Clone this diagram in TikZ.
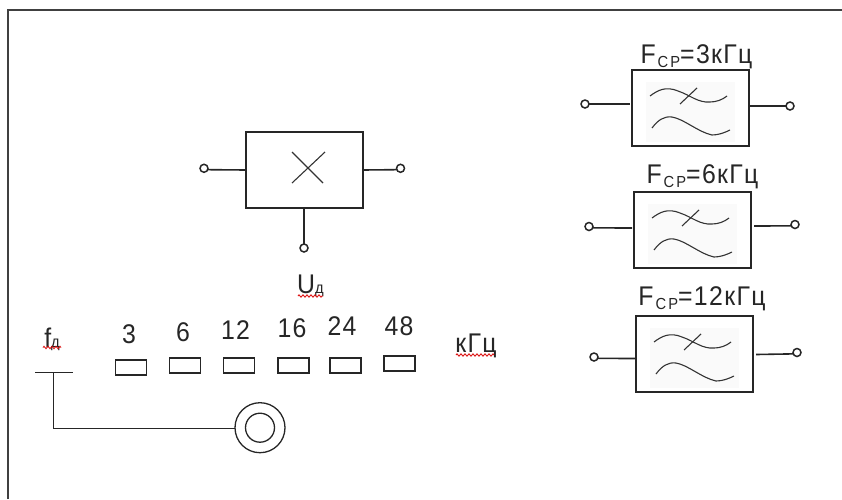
\documentclass[tikz,border=0pt]{standalone}
\usepackage{fontspec}
\setmainfont[FakeStretch=0.92,LetterSpace=5]{Liberation Sans}
\usetikzlibrary{decorations.pathmorphing}
\newcommand{\bigtxt}{\fontsize{27}{29}\selectfont}
\newcommand{\smalltxt}{\fontsize{16}{18}\selectfont}
\newcommand{\fcp}[1]{F\hspace{2pt}\raisebox{-4pt}{\smalltxt С\hspace{2pt}Р}=#1кГц}
\newcommand{\filterunit}[3]{%
  \node[blockbox,minimum width=117pt,minimum height=76pt] (#1) at (#2,#3) {};
  \fill[black!2] (#2+14,#3+12) rectangle (#2+103,#3+72);
  \draw[wave] (#2+18,#3+26) .. controls (#2+26,#3+20) and (#2+34,#3+16) .. (#2+46,#3+21)
     .. controls (#2+58,#3+25) and (#2+66,#3+33) .. (#2+78,#3+32)
     .. controls (#2+84,#3+32) and (#2+90,#3+30) .. (#2+95,#3+26);
  \draw[wave] (#2+48,#3+34) -- (#2+65,#3+18);
  \draw[wave] (#2+20,#3+58) .. controls (#2+26,#3+50) and (#2+32,#3+46) .. (#2+40,#3+47)
     .. controls (#2+52,#3+49) and (#2+66,#3+62) .. (#2+80,#3+65)
     .. controls (#2+86,#3+65) and (#2+92,#3+63) .. (#2+98,#3+60);
}
\tikzset{
  x=1pt,y=-1pt,
  blockbox/.style={draw=black!85,line width=1.6pt,anchor=north west,inner sep=0pt,outer sep=0pt},
  wire/.style={draw=black!85,line width=1.6pt},
  wave/.style={draw=black!80,line width=1.1pt},
  term/.style={circle,draw=black!85,line width=1.5pt,fill=white,minimum size=8pt,inner sep=0pt,outer sep=0pt},
  keybox/.style={draw=black!85,line width=1.5pt,minimum width=31pt,minimum height=15pt,inner sep=0pt,outer sep=0pt},
  lbl/.style={inner sep=0pt,anchor=base,text=black!85},
  spell/.style={draw=red!85!black,line width=.8pt,decorate,decoration={zigzag,segment length=4pt,amplitude=1.2pt}},
}
\begin{document}
\begin{tikzpicture}
\useasboundingbox (0,0) rectangle (842,499);
\draw[black!75,line width=2pt] (7.5,499) -- (7.5,9.5) -- (842,9.5);

% mixer
\node[blockbox,minimum width=117pt,minimum height=76pt] (mix) at (246,132) {};
\coordinate (xa) at (292,152); \coordinate (xb) at (323,183);
\coordinate (xc) at (325,152); \coordinate (xd) at (292,183);
\draw[wave] (xa) -- (xb); \draw[wave] (xc) -- (xd);
\node[term] (mixL) at (204,168.3) {};
\node[term] (mixR) at (400.5,168.3) {};
\node[term] (mixB) at (304,248) {};
\coordinate (mixLe) at (246,170); \coordinate (mixRe) at (363,170); \coordinate (mixBe) at (304,208);
\draw[wire] (mixL.-20) -- (mixLe);
\draw[wire] (mixR.200) -- (mixRe);
\draw[wire] (mixB) -- (mixBe);

% filters
\filterunit{fa}{632}{70}
\filterunit{fb}{634}{192}
\filterunit{fc}{636}{316}
\node[lbl] (la) at (696.5,63) {\bigtxt\fcp{3}};
\node[lbl] (lb) at (702.5,183) {\bigtxt\fcp{6}};
\node[lbl] (lc) at (702,305) {\bigtxt\fcp{12}};

\node[term] (faL) at (585,104) {};
\node[term] (faR) at (790,106) {};
\coordinate (faLe) at (630,104); \coordinate (faRe) at (749,106);
\draw[wire] (faL) -- (faLe); \draw[wire] (faR) -- (faRe);
\node[term] (fbL) at (589,226.5) {};
\node[term] (fbR) at (795,224.5) {};
\coordinate (fbLe) at (632,228); \coordinate (fbRe) at (754,226);
\draw[wire] (fbL.-20) -- (fbLe); \draw[wire] (fbR.200) -- (fbRe);
\node[term] (fcL) at (594,357) {};
\node[term] (fcR) at (797,352.5) {};
\coordinate (fcLe) at (636,358.5); \coordinate (fcRe) at (756,354.5);
\draw[wire] (fcL.-20) -- (fcLe); \draw[wire] (fcR.200) -- (fcRe);

% labels for control
\node[lbl] (ud) at (310.5,293) {\bigtxt U\smalltxt д};
\draw[spell] (298,296) -- (323,296);
\node[lbl] (fd) at (52,347) {\bigtxt f\smalltxt д};
\draw[spell] (43,347.5) -- (61,347.5);
\node[lbl] (khz) at (476,352) {\bigtxt кГц};
\draw[spell] (456,355) -- (494,355);

% keys
\node[keybox] (k3) at (131,367.5) {};
\node[keybox] (k6) at (185,365.5) {};
\node[keybox] (k12) at (239,365.5) {};
\node[keybox] (k16) at (293.5,365.5) {};
\node[keybox] (k24) at (345.5,365.5) {};
\node[keybox] (k48) at (399.5,363.5) {};
\node[lbl] (t3) at (129,343) {\bigtxt 3};
\node[lbl] (t6) at (183,341) {\bigtxt 6};
\node[lbl] (t12) at (235.5,339.5) {\bigtxt 12};
\node[lbl] (t16) at (292,337) {\bigtxt 16};
\node[lbl] (t24) at (342,335.5) {\bigtxt 24};
\node[lbl] (t48) at (399,335) {\bigtxt 48};

% switch
\coordinate (barL) at (35,372.5); \coordinate (barR) at (73,372.5);
\coordinate (barM) at (53.5,372.5); \coordinate (corner) at (53.5,428.5);
\node[circle,draw=black!85,line width=1.3pt,minimum size=50pt,inner sep=0pt,outer sep=0pt] (knob) at (260,427.7) {};
\node[circle,draw=black!85,line width=1.3pt,minimum size=29pt,inner sep=0pt] (knobi) at (260,427.7) {};
\draw[wire] (barL) -- (barR);
\draw[wire] (barM) -- (corner) -- (knob.west |- corner);
\end{tikzpicture}
\end{document}
